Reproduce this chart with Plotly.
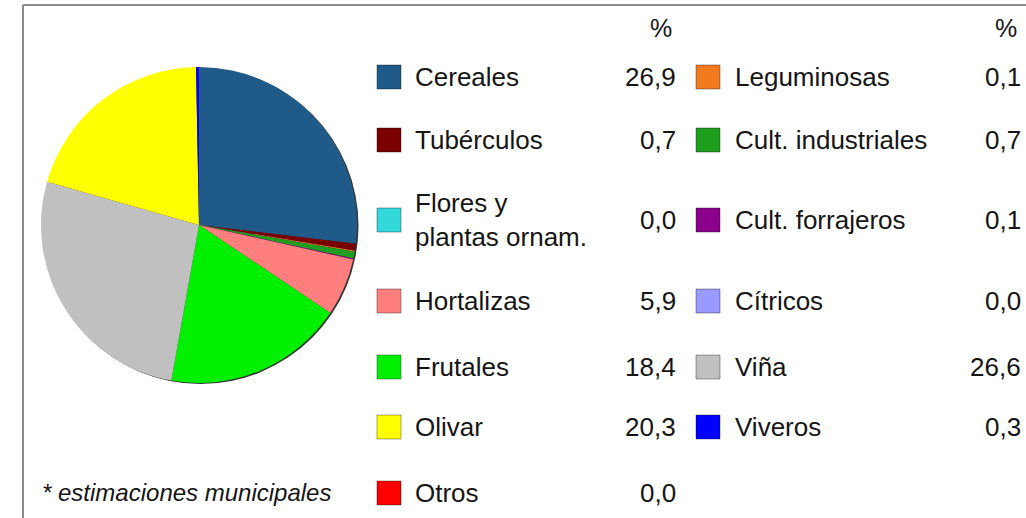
import plotly.graph_objects as go

# ---- data ----
categories = ["Cereales", "Tubérculos", "Leguminosas", "Cult. industriales",
              "Flores y<br>plantas ornam.", "Cult. forrajeros", "Hortalizas",
              "Cítricos", "Frutales", "Viña", "Olivar", "Viveros", "Otros"]
values = [26.9, 0.7, 0.1, 0.7, 0.0, 0.1, 5.9, 0.0, 18.4, 26.6, 20.3, 0.3, 0.0]
colors = ["#1F5A88", "#7A0000", "#F47A20", "#1E9E1E", "#33D8DC", "#8B008B",
          "#FF7F7F", "#9999FF", "#00F000", "#C0C0C0", "#FFFF00", "#0000FF", "#FF0000"]
left_col = ["Cereales", "Tubérculos", "Flores y<br>plantas ornam.", "Hortalizas",
            "Frutales", "Olivar", "Otros"]
right_col = ["Leguminosas", "Cult. industriales", "Cult. forrajeros", "Cítricos",
             "Viña", "Viveros"]
header = "%"
note = "* estimaciones municipales"

W, H = 1026, 518
def px(x): return x / W
def py(y): return 1 - y / H

FONT = "Liberation Sans, Arial, sans-serif"
TXT = "#151515"

fig = go.Figure()

# pie
cx, cy, r = 199, 225, 158
fig.add_trace(go.Pie(
    labels=[c.replace("<br>", " ") for c in categories], values=values,
    marker=dict(colors=colors, line=dict(width=0)),
    sort=False, direction="clockwise", rotation=0,
    textinfo="none", hoverinfo="label+value", showlegend=False,
    domain=dict(x=[px(cx - r), px(cx + r)], y=[py(cy + r), py(cy - r)]),
))

shapes = []
annotations = []

# subtle shadow behind pie
shapes.append(dict(type="circle", xref="paper", yref="paper", layer="below",
                   x0=px(cx - r + 1.5), x1=px(cx + r + 1.5),
                   y0=py(cy + r + 1.0), y1=py(cy - r + 1.0),
                   fillcolor="#333333", line=dict(width=0)))

# frame
shapes.append(dict(type="line", xref="paper", yref="paper",
                   x0=px(23), x1=px(23), y0=py(5), y1=py(520),
                   line=dict(color="#8A8A8A", width=2)))
shapes.append(dict(type="line", xref="paper", yref="paper",
                   x0=px(23), x1=px(1030), y0=py(5), y1=py(5),
                   line=dict(color="#8A8A8A", width=2)))

row_y = [77, 140, 220, 301, 367, 427, 493]
cols = [
    dict(names=left_col, sq=389, text=413, val=678),
    dict(names=right_col, sq=708, text=733, val=1023),
]

for col in cols:
    annotations.append(dict(text=header, x=px(col["val"] - 4), y=py(28),
                            xref="paper", yref="paper", xanchor="right",
                            yanchor="middle", showarrow=False,
                            font=dict(family=FONT, size=25, color=TXT)))
    for i, name in enumerate(col["names"]):
        k = categories.index(name)
        yc = row_y[i]
        s = 12
        shapes.append(dict(type="rect", xref="paper", yref="paper",
                           x0=px(col["sq"] - s), x1=px(col["sq"] + s),
                           y0=py(yc + s), y1=py(yc - s),
                           fillcolor=colors[k],
                           line=dict(color="rgba(0,0,0,0.35)", width=1)))
        annotations.append(dict(text=name, x=px(col["text"]), y=py(yc),
                                xref="paper", yref="paper", xanchor="left",
                                yanchor="middle", align="left", showarrow=False,
                                font=dict(family=FONT, size=26, color=TXT)))
        annotations.append(dict(text=f"{values[k]:.1f}".replace(".", ","),
                                x=px(col["val"]), y=py(yc),
                                xref="paper", yref="paper", xanchor="right",
                                yanchor="middle", showarrow=False,
                                font=dict(family=FONT, size=26, color=TXT)))

annotations.append(dict(text="<i>" + note + "</i>", x=px(40), y=py(492),
                        xref="paper", yref="paper", xanchor="left",
                        yanchor="middle", showarrow=False,
                        font=dict(family=FONT, size=24, color=TXT)))

fig.update_layout(width=W, height=H, margin=dict(l=0, r=0, t=0, b=0),
                  paper_bgcolor="white", plot_bgcolor="white",
                  shapes=shapes, annotations=annotations)

fig.write_html("out.html", config={"displayModeBar": False},
               post_script="document.body.style.margin='0';document.body.style.padding='0';document.body.style.overflow='hidden';")
